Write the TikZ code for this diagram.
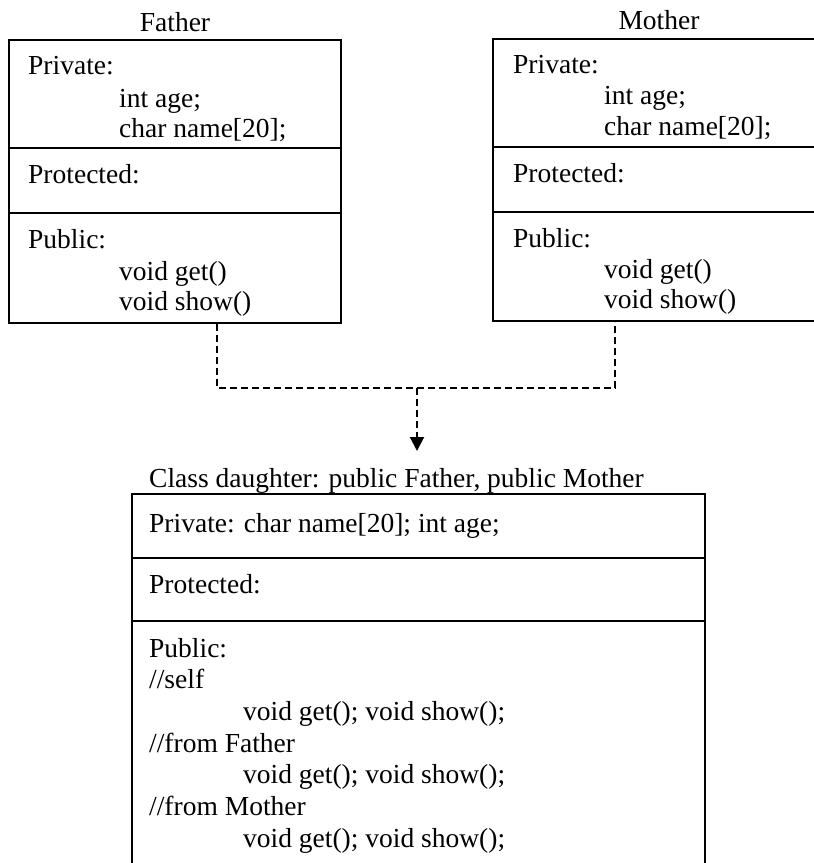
\documentclass[tikz,border=0pt]{standalone}
\usepackage{fontspec}
\setmainfont{Liberation Serif}
\usetikzlibrary{arrows.meta}
\begin{document}
\begin{tikzpicture}[x=1pt,y=-1pt,
  box/.style={draw, line width=2pt, inner sep=0pt},
  rule/.style={line width=2pt},
  txt/.style={anchor=base west, inner sep=0pt, font=\fontsize{27.5}{32}\selectfont},
  ttl/.style={anchor=base, inner sep=0pt, font=\fontsize{27.5}{32}\selectfont},
  link/.style={line width=2pt, dash pattern=on 7pt off 4pt},
]
\useasboundingbox[fill=white] (0,0) rectangle (814,863);
\clip (0,0) rectangle (814,863);

% Father
\node[ttl] (ftitle) at (175,31) {Father};
\node[box, minimum width=332pt, minimum height=283pt] (father) at (175,181.5) {};
\draw[rule] (father.west |- 0,148) -- (father.east |- 0,148);
\draw[rule] (father.west |- 0,213) -- (father.east |- 0,213);
\node[txt] (fpriv) at (28,74) {Private:};
\node[txt] (fage) at (119,107) {int age;};
\node[txt] (fname) at (119,137) {char name[20];};
\node[txt] (fprot) at (28,183) {Protected:};
\node[txt] (fpub) at (28,248) {Public:};
\node[txt] (fget) at (119,280) {void get()};
\node[txt] (fshow) at (119,310) {void show()};

% Mother
\node[ttl] (mtitle) at (659,29) {Mother};
\node[box, minimum width=332pt, minimum height=282pt] (mother) at (659,180) {};
\draw[rule] (mother.west |- 0,147) -- (mother.east |- 0,147);
\draw[rule] (mother.west |- 0,212) -- (mother.east |- 0,212);
\node[txt] (mpriv) at (513,73) {Private:};
\node[txt] (mage) at (604,104) {int age;};
\node[txt] (mname) at (604,135) {char name[20];};
\node[txt] (mprot) at (513,182) {Protected:};
\node[txt] (mpub) at (513,247) {Public:};
\node[txt] (mget) at (604,278) {void get()};
\node[txt] (mshow) at (604,308) {void show()};

% Connector
\coordinate (fj) at (217,388);
\coordinate (mj) at (615,388);
\coordinate (cj) at (417,388);
\coordinate (tip) at (417,451);
\draw[link] (father.south -| fj) -- (fj) -- (mj) -- (mother.south -| mj);
\draw[link, -{Triangle[width=14pt,length=14pt]}] (cj) -- (tip);

% Daughter
\node[txt] (dtitle) at (149,487) {Class daughter: public Father, public Mother};
\node[box, minimum width=573pt, minimum height=390pt] (daughter) at (418.5,689) {};
\draw[rule] (daughter.west |- 0,558) -- (daughter.east |- 0,558);
\draw[rule] (daughter.west |- 0,621) -- (daughter.east |- 0,621);
\node[txt] (dpriv) at (149,532) {Private: char name[20]; int age;};
\node[txt] (dprot) at (149,593) {Protected:};
\node[txt] (dpub) at (149,657) {Public:};
\node[txt] (dself) at (149,688) {//self};
\node[txt] (dself2) at (243,720) {void get(); void show();};
\node[txt] (dfat) at (149,752) {//from Father};
\node[txt] (dfat2) at (243,783) {void get(); void show();};
\node[txt] (dmot) at (149,815) {//from Mother};
\node[txt] (dmot2) at (243,847) {void get(); void show();};
\end{tikzpicture}
\end{document}
